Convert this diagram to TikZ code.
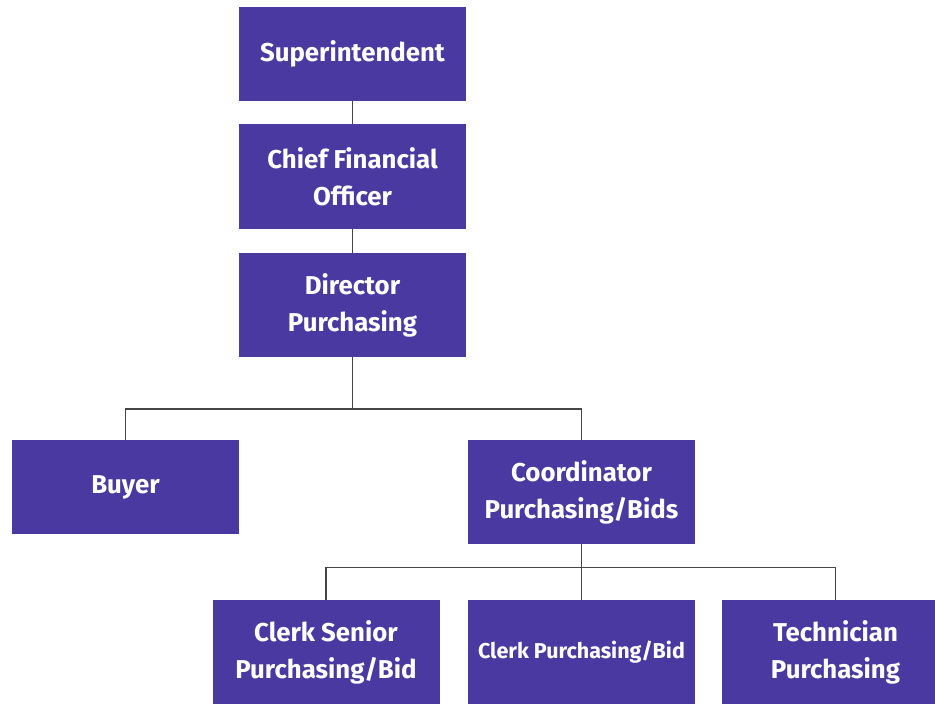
\documentclass[tikz,border=0pt]{standalone}
\usepackage{fontspec}
\setmainfont{Fira Sans}
\begin{document}
\begin{tikzpicture}[x=1pt,y=-1pt,
  box/.style={draw=none,fill=boxpurple,text=white,font=\bfseries\fontsize{25.8}{37}\selectfont,
    align=center,minimum width=227pt,inner sep=0pt,anchor=center},
  tall/.style={minimum height=104pt},
  short/.style={minimum height=94pt},
  link/.style={draw=linegray,line width=1.1pt}]
\definecolor{boxpurple}{RGB}{75,57,162}
\definecolor{linegray}{RGB}{70,70,70}
\useasboundingbox (0,0) rectangle (935,704);
\clip (0,0) rectangle (935,704);
\fill[white] (0,0) rectangle (935,704);

% top chain
\node[box,short] (sup) at (352.5,53.5) {Superintendent};
\node[box,minimum height=105pt] (cfo) at (352.5,176.5) {Chief Financial\\Officer};
\node[box,tall] (dir) at (352.5,305) {Director\\Purchasing};

% second level
\node[box,short] (buyer) at (125.5,487) {Buyer};
\node[box,tall] (coord) at (581.5,492) {Coordinator\\Purchasing/Bids};

% third level
\node[box,tall] (cs) at (326,652) {Clerk Senior\\Purchasing/Bid};
\node[box,tall,font=\bfseries\fontsize{21.5}{30}\selectfont] (cp) at (581.5,652) {Clerk Purchasing/Bid};
\node[box,tall] (tech) at (835.5,652) {Technician\\Purchasing};

% connectors
\coordinate (j1) at (352.5,409);
\coordinate (j2) at (581.5,567.5);
\draw[link] (sup.south) -- (cfo.north);
\draw[link] (cfo.south) -- (dir.north);
\draw[link] (dir.south) -- (j1);
\draw[link] (buyer.north) |- (j1) -| (coord.north);
\draw[link] (coord.south) -- (j2) -- (cp.north);
\draw[link] (cs.north) |- (j2) -| (tech.north);
\end{tikzpicture}
\end{document}
